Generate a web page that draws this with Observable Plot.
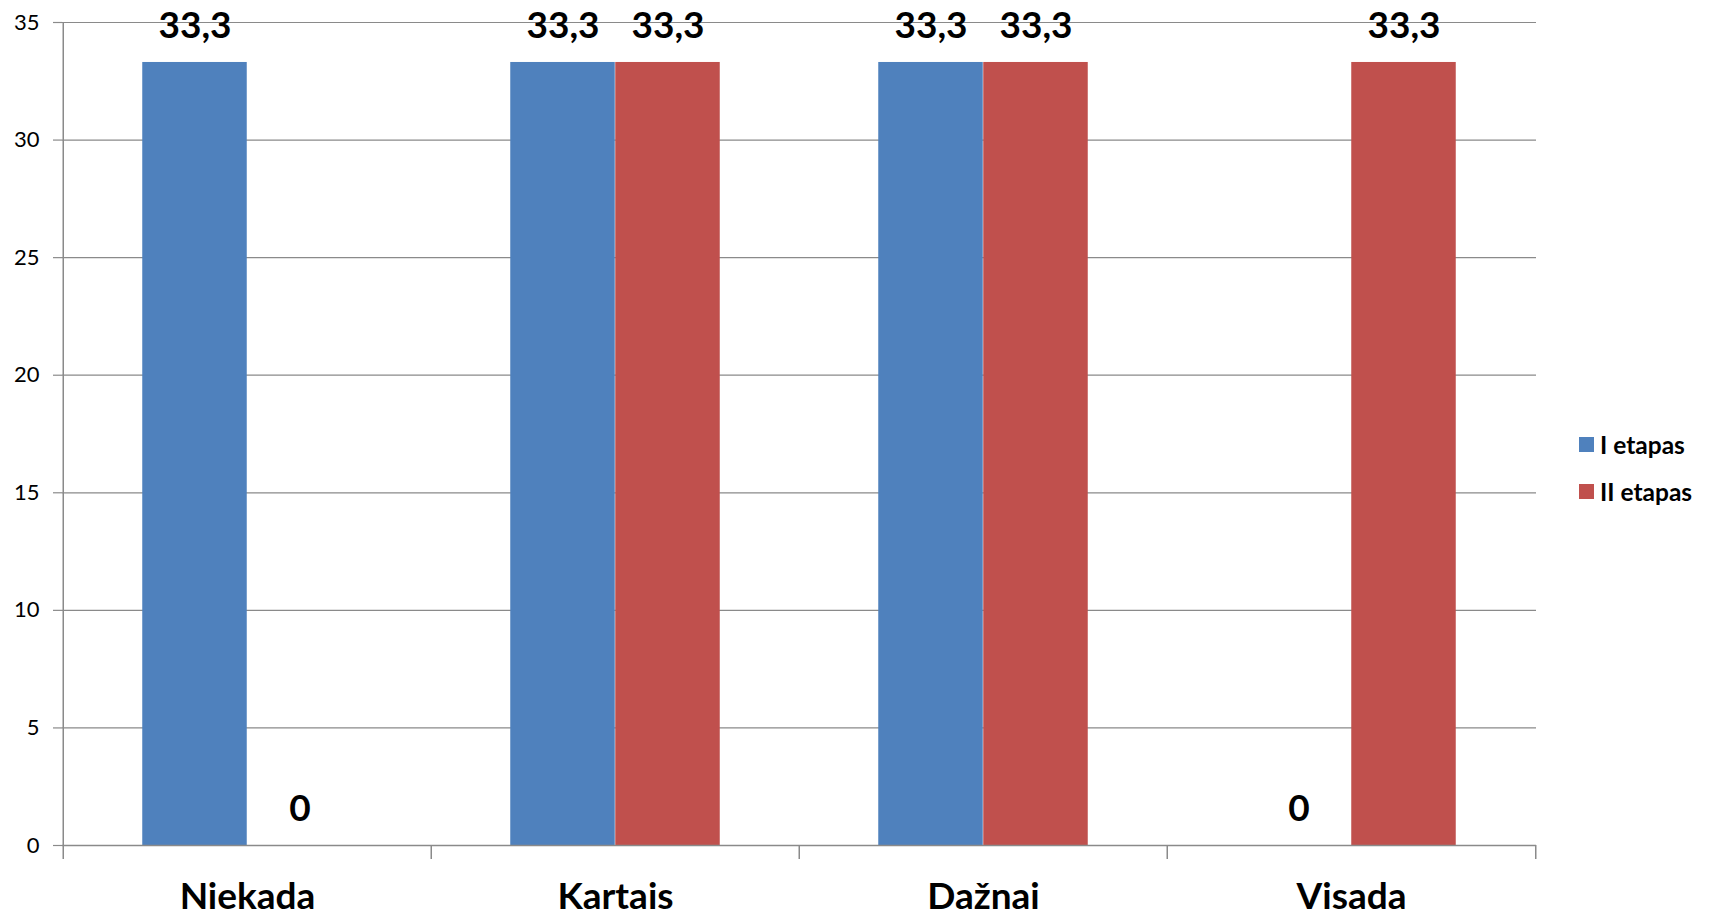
<!DOCTYPE html>
<html>
<head>
<meta charset="utf-8">
<script src="https://cdn.jsdelivr.net/npm/d3@7"></script>
<script src="https://cdn.jsdelivr.net/npm/@observablehq/plot@0.6"></script>
<style>
  html, body { margin: 0; padding: 0; background: #fff; }
  #wrap { position: relative; width: 1709px; height: 919px; font-family: Lato, "Open Sans", sans-serif; }
  #legend { position: absolute; left: 1579px; top: 431px; font-family: Lato, sans-serif; font-weight: bold; font-size: 24.5px; color: #000; }
  #legend .row { display: flex; align-items: center; height: 26px; margin-bottom: 21px; }
  #legend .sw { width: 15px; height: 15px; margin-right: 6px; }
</style>
</head>
<body>
<div id="wrap"></div>
<script>
const categories = ["Niekada", "Kartais", "Dažnai", "Visada"];
const seriesNames = ["I etapas", "II etapas"];
const seriesI = [33.3, 33.3, 33.3, 0];
const seriesII = [0, 33.3, 33.3, 33.3];
const colors = ["#4F81BD", "#C0504D"];
const yTicks = [0, 5, 10, 15, 20, 25, 30, 35];

const data = [];
categories.forEach((c, i) => {
  data.push({category: c, series: seriesNames[0], value: seriesI[i]});
  data.push({category: c, series: seriesNames[1], value: seriesII[i]});
});

const W = 1709, H = 919;
const mL = 62, mR = 173, mT = 22, mB = 74;
const step = (W - mL - mR) / categories.length;
const barW = 105;
const half = step / 2;
const gray = "#8a8a8a";
const fmt = v => String(v).replace(".", ",");

const dI = data.filter(d => d.series === seriesNames[0]);
const dII = data.filter(d => d.series === seriesNames[1]);

const plot = Plot.plot({
  width: W, height: H,
  marginLeft: mL, marginRight: mR, marginTop: mT, marginBottom: mB,
  style: {fontFamily: "Lato, 'Open Sans', sans-serif", background: "#fff", color: "#000"},
  x: {domain: categories, padding: 0, label: null},
  y: {domain: [0, 35], label: null},
  color: {domain: seriesNames, range: colors},
  marks: [
    Plot.gridY(yTicks, {stroke: gray, strokeOpacity: 1, strokeWidth: 1.2}),
    Plot.axisY(yTicks, {tickSize: 9, tickPadding: 14, fontSize: 22, stroke: gray, strokeWidth: 1.2, label: null, fill: "#000"}),
    Plot.barY(dI, {x: "category", y: "value", fill: "series", insetLeft: half - barW, insetRight: half}),
    Plot.barY(dII, {x: "category", y: "value", fill: "series", insetLeft: half, insetRight: half - barW}),
    // axis lines
    Plot.ruleY([0], {stroke: gray, strokeWidth: 1.5}),
    Plot.ruleX([categories[0]], {x: d => d, y1: 35, y2: 0, dx: -half, insetBottom: -14, stroke: gray, strokeWidth: 1.5}),
    Plot.ruleX(categories.slice(1), {x: d => d, y1: 0, y2: 0, dx: -half, insetBottom: -14, stroke: gray, strokeWidth: 1.5}),
    Plot.ruleX([categories[categories.length - 1]], {x: d => d, y1: 0, y2: 0, dx: half, insetBottom: -14, stroke: gray, strokeWidth: 1.5}),
    Plot.axisX({tickSize: 0, tickPadding: 37, fontSize: 37, fontWeight: "bold", label: null}),
    Plot.text(dI, {x: "category", y: "value", text: d => fmt(d.value), dx: -barW / 2, dy: -36, fontSize: 37, fontWeight: "bold", fill: "#000"}),
    Plot.text(dII, {x: "category", y: "value", text: d => fmt(d.value), dx: barW / 2, dy: -36, fontSize: 37, fontWeight: "bold", fill: "#000"})
  ]
});

const wrap = document.getElementById("wrap");
wrap.appendChild(plot);

const legend = document.createElement("div");
legend.id = "legend";
seriesNames.forEach((s, i) => {
  const row = document.createElement("div");
  row.className = "row";
  const sw = document.createElement("div");
  sw.className = "sw";
  sw.style.background = colors[i];
  const t = document.createElement("span");
  t.textContent = s;
  row.appendChild(sw);
  row.appendChild(t);
  legend.appendChild(row);
});
wrap.appendChild(legend);
</script>
</body>
</html>
